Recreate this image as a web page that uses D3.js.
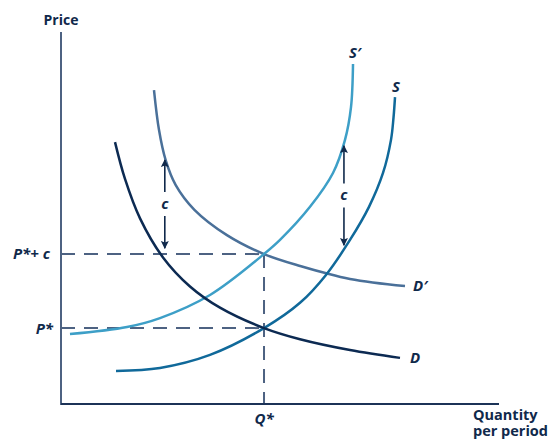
<!DOCTYPE html>
<html><head><meta charset="utf-8">
<script src="https://cdn.jsdelivr.net/npm/d3@7"></script>
<style>body{margin:0;background:#fff}svg{display:block}text{font-family:"Open Sans",sans-serif;font-weight:700;fill:#10294b}</style>
</head><body><svg id="c" width="552" height="441"></svg>
<script>
// Data (quantity, price) in chart units
const demandD = [[1.233,7.04],[1.461,6.05],[1.804,4.99],[2.329,3.94],[2.945,3.16],[3.630,2.59],[4.635,2.04],[5.457,1.74],[6.598,1.45],[7.740,1.24]];
const demandDprime = [[2.123,8.44],[2.237,7.37],[2.388,6.56],[2.616,5.89],[3.046,5.22],[3.788,4.54],[4.635,4.03],[5.457,3.71],[6.598,3.36],[7.854,3.17]];
const supplyS = [[1.256,0.89],[2.260,0.97],[3.402,1.32],[4.635,2.04],[5.457,2.72],[6.050,3.47],[6.598,4.41],[7.032,5.30],[7.352,6.21],[7.534,7.10],[7.591,7.69],[7.626,8.25]];
const supplySprime = [[0.205,1.88],[1.507,2.07],[2.260,2.31],[3.402,2.93],[4.635,4.03],[5.000,4.41],[5.685,5.30],[6.210,6.21],[6.484,7.10],[6.621,7.98],[6.667,9.14]];
const Qstar = 4.635, Pstar = 2.04, Ptax = 4.03;
const arrows = [{x:2.37, top:6.56, bottom:4.19, label:"c"},{x:6.46, top:6.94, bottom:4.27, label:"c"}];
const curveLabels = ["D","D′","S","S′"];
const priceLabels = ["P*+ c","P*"];
const axisTitles = ["Price","Quantity","per period","Q*"];

const svg = d3.select("#c");
const x = d3.scaleLinear().domain([0,10]).range([61,499]);
const y = d3.scaleLinear().domain([0,10]).range([404,32]);
const axisCol = "#4d6282";

svg.append("defs").append("marker").attr("id","ah").attr("viewBox","0 0 10 10")
  .attr("refX",9).attr("refY",5).attr("markerWidth",6).attr("markerHeight",5).attr("orient","auto-start-reverse")
  .append("path").attr("d","M0,0 L10,5 L0,10 L2,5 Z").attr("fill","#10294b");

// dashed guides
const dash = "14,9";
svg.append("line").attr("x1",x(0)).attr("x2",x(Qstar)).attr("y1",y(Ptax)).attr("y2",y(Ptax))
  .attr("stroke",axisCol).attr("stroke-width",2).attr("stroke-dasharray",dash);
svg.append("line").attr("x1",x(0)).attr("x2",x(Qstar)).attr("y1",y(Pstar)).attr("y2",y(Pstar))
  .attr("stroke",axisCol).attr("stroke-width",2).attr("stroke-dasharray",dash);
svg.append("line").attr("x1",x(Qstar)).attr("x2",x(Qstar)).attr("y1",y(Ptax)).attr("y2",y(0))
  .attr("stroke",axisCol).attr("stroke-width",2).attr("stroke-dasharray",dash);

// curves
const line = d3.line().x(d=>x(d[0])).y(d=>y(d[1])).curve(d3.curveCatmullRom.alpha(0.5));
const curves = [
  {data:demandDprime, color:"#4a7099"},
  {data:supplySprime, color:"#3d9fc7"},
  {data:supplyS, color:"#10699a"},
  {data:demandD, color:"#0c2a52"}
];
curves.forEach(c=>svg.append("path").attr("d",line(c.data)).attr("fill","none")
  .attr("stroke",c.color).attr("stroke-width",2.5));

// axes
svg.append("line").attr("x1",x(0)).attr("x2",x(0)).attr("y1",y(10)).attr("y2",y(0)+1)
  .attr("stroke",axisCol).attr("stroke-width",2);
svg.append("line").attr("x1",x(0)).attr("x2",x(10)).attr("y1",y(0)).attr("y2",y(0))
  .attr("stroke","#1c3357").attr("stroke-width",2);

// c arrows
arrows.forEach(a=>{
  const mid = (a.top + a.bottom)/2;
  svg.append("line").attr("x1",x(a.x)).attr("x2",x(a.x)).attr("y1",y(mid)-12).attr("y2",y(a.top))
    .attr("stroke","#10294b").attr("stroke-width",1.6).attr("marker-end","url(#ah)");
  svg.append("line").attr("x1",x(a.x)).attr("x2",x(a.x)).attr("y1",y(mid)+12).attr("y2",y(a.bottom))
    .attr("stroke","#10294b").attr("stroke-width",1.6).attr("marker-end","url(#ah)");
  svg.append("text").attr("x",x(a.x)).attr("y",y(mid)+5).attr("text-anchor","middle")
    .attr("font-size",15).attr("font-style","italic").text(a.label);
});

// curve labels
const lastD = demandD[demandD.length-1], lastDp = demandDprime[demandDprime.length-1];
const lastS = supplyS[supplyS.length-1], lastSp = supplySprime[supplySprime.length-1];
const it = (t,px,py,anchor)=>svg.append("text").attr("x",px).attr("y",py).attr("text-anchor",anchor)
  .attr("font-size",15).attr("font-style","italic").text(t);
it(curveLabels[0], x(lastD[0])+10, y(lastD[1])+5, "start");
it(curveLabels[1], x(lastDp[0])+8, y(lastDp[1])+5, "start");
it(curveLabels[2], x(lastS[0])+1, y(lastS[1])-5, "middle");
it(curveLabels[3], x(lastSp[0])+2, y(lastSp[1])-6, "middle");
it(priceLabels[0], x(0)-11, y(Ptax)+5, "end");
it(priceLabels[1], x(0)-8, y(Pstar)+6, "end");
it(axisTitles[3], x(Qstar), y(0)+20, "middle");

// axis titles
svg.append("text").attr("x",x(0)).attr("y",25).attr("text-anchor","middle").attr("font-size",14).text(axisTitles[0]);
const qt = svg.append("text").attr("x",473).attr("y",420).attr("font-size",14.5);
qt.append("tspan").attr("x",473).attr("y",420).text(axisTitles[1]);
qt.append("tspan").attr("x",473).attr("y",436).text(axisTitles[2]);
</script></body></html>
